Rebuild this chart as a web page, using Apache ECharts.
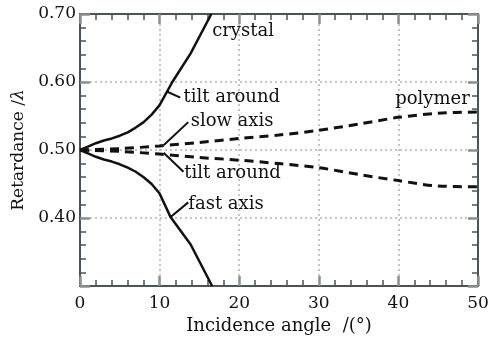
<!DOCTYPE html>
<html><head><meta charset="utf-8">
<script src="https://cdn.jsdelivr.net/npm/echarts@6/dist/echarts.min.js"></script>
<style>html,body{margin:0;padding:0;background:#fff}#c{width:503px;height:340px}</style>
</head><body><div id="c"></div>
<script>
// Data (incidence angle in degrees, retardance in waves)
const crystalSlowX = [0, 1, 2, 3, 4, 5, 6, 7, 8, 9, 10, 11.6, 13.9, 16.5];
const crystalSlowY = [0.500, 0.505, 0.510, 0.514, 0.517, 0.521, 0.526, 0.533, 0.541, 0.552, 0.566, 0.600, 0.642, 0.700];
const crystalFastX = [0, 1, 2, 3, 4, 5, 6, 7, 8, 9, 10, 11.35, 13.9, 16.6];
const crystalFastY = [0.500, 0.495, 0.490, 0.486, 0.483, 0.479, 0.474, 0.468, 0.460, 0.450, 0.436, 0.402, 0.361, 0.300];
const polymerX = [0, 5, 10, 15, 20, 25, 30, 35, 40, 45, 50];
const polymerSlowY = [0.500, 0.502, 0.506, 0.511, 0.517, 0.522, 0.529, 0.538, 0.548, 0.554, 0.556];
const polymerFastY = [0.500, 0.498, 0.494, 0.489, 0.485, 0.480, 0.474, 0.464, 0.455, 0.447, 0.446];
const xTicks = [0, 10, 20, 30, 40, 50];
const yTicks = ['0.40', '0.50', '0.60', '0.70'];
// annotation texts (data coords of left-middle anchor)
const noteTexts = ['crystal', 'tilt around', 'slow axis', 'tilt around', 'fast axis', 'polymer'];
const noteX = [16.6, 13.0, 13.9, 13.1, 13.6, 39.6];
const noteY = [0.675, 0.577, 0.542, 0.466, 0.420, 0.574];
// leader lines [x1,y1,x2,y2]
const leaderFromX = [10.9, 10.5, 10.5, 11.35];
const leaderFromY = [0.586, 0.507, 0.496, 0.401];
const leaderToX = [12.6, 13.6, 13.0, 13.6];
const leaderToY = [0.577, 0.541, 0.468, 0.423];

const zip = (xs, ys) => xs.map((x, i) => [x, ys[i]]);
const FONT = 'DejaVu Serif';
const frame = '#4b5358';

function axisCommon(showLabel) {
  return {
    axisLine: {show: true, onZero: false, lineStyle: {color: frame, width: 2}},
    axisTick: {show: true, inside: true, length: 10, lineStyle: {color: '#8a9094', width: 2.5}},
    minorTick: {show: true, splitNumber: 5, length: 6, lineStyle: {color: frame, width: 1.5}},
    axisLabel: {show: showLabel},
  };
}

const chart = echarts.init(document.getElementById('c'), null, {renderer: 'canvas'});
const opt = {
  animation: false,
  backgroundColor: '#fff',
  grid: {left: 80, right: 25, top: 14, bottom: 54},
  xAxis: [
    Object.assign(axisCommon(true), {
      type: 'value', min: 0, max: 50, interval: 10, position: 'bottom',
      name: 'Incidence angle  /(°)', nameLocation: 'middle', nameGap: 31,
      nameTextStyle: {fontFamily: FONT, fontSize: 18, color: '#111'},
      axisLabel: {show: true, margin: 9, fontFamily: FONT, fontSize: 17, color: '#111',
        formatter: v => xTicks.includes(v) ? String(v) : ''},
      splitLine: {show: true, lineStyle: {type: [2, 3], color: '#b0b4b6', width: 1.5}}
    }),
    Object.assign(axisCommon(false), {
      type: 'value', min: 0, max: 50, interval: 10, position: 'top',
      splitLine: {show: false}
    })
  ],
  yAxis: [
    Object.assign(axisCommon(true), {
      type: 'value', min: 0.3, max: 0.7, interval: 0.1, position: 'left',
      name: '{r|Retardance /}{l|λ}', nameLocation: 'middle', nameGap: 52,
      nameTextStyle: {fontFamily: FONT, fontSize: 17, color: '#111',
        rich: {r: {fontFamily: FONT, fontSize: 17, color: '#111'},
               l: {fontFamily: FONT, fontSize: 17, color: '#111', fontStyle: 'italic'}}},
      axisLabel: {show: true, margin: 4, fontFamily: FONT, fontSize: 17, color: '#111',
        formatter: v => { const s = v.toFixed(2); return yTicks.includes(s) ? s : ''; }},
      splitLine: {show: true, lineStyle: {type: [2, 3], color: '#b0b4b6', width: 1.5}}
    }),
    Object.assign(axisCommon(false), {
      type: 'value', min: 0.3, max: 0.7, interval: 0.1, position: 'right',
      splitLine: {show: false}
    })
  ],
  series: [
    {type: 'line', showSymbol: false, smooth: false, data: zip(crystalSlowX, crystalSlowY),
     lineStyle: {color: '#111', width: 2.5, join: 'round'}},
    {type: 'line', showSymbol: false, smooth: false, data: zip(crystalFastX, crystalFastY),
     lineStyle: {color: '#111', width: 2.5, join: 'round'}},
    {type: 'line', showSymbol: false, smooth: 0.3, data: zip(polymerX, polymerSlowY),
     lineStyle: {color: '#111', width: 3, type: [9, 6]}},
    {type: 'line', showSymbol: false, smooth: 0.3, data: zip(polymerX, polymerFastY),
     lineStyle: {color: '#111', width: 3, type: [9, 6]}}
  ]
};
chart.setOption(opt);

const graphics = [];
noteTexts.forEach((t, i) => {
  const p = chart.convertToPixel({gridIndex: 0}, [noteX[i], noteY[i]]);
  graphics.push({type: 'text', x: p[0], y: p[1], z: 10,
    style: {text: t, fontFamily: FONT, fontSize: 18, fill: '#111', align: 'left', verticalAlign: 'middle'}});
});
leaderFromX.forEach((x, i) => {
  const a = chart.convertToPixel({gridIndex: 0}, [x, leaderFromY[i]]);
  const b = chart.convertToPixel({gridIndex: 0}, [leaderToX[i], leaderToY[i]]);
  graphics.push({type: 'line', z: 10, shape: {x1: a[0], y1: a[1], x2: b[0], y2: b[1]},
    style: {stroke: '#111', lineWidth: 2}});
});
chart.setOption({graphic: graphics});
</script>
</body></html>
